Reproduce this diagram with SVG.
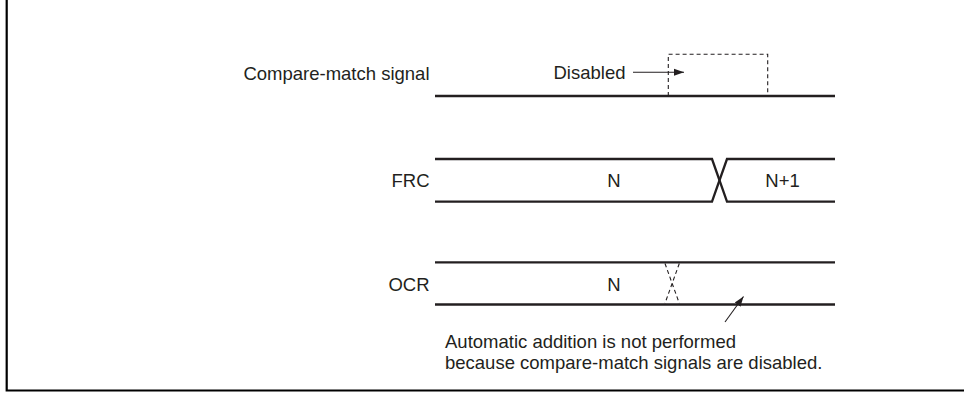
<svg xmlns="http://www.w3.org/2000/svg" width="964" height="393" viewBox="0 0 964 393">
<style>
text{font-family:"Liberation Sans",Arial,sans-serif;font-size:18.5px;fill:#231f20}
.lbl{text-anchor:end}
.mid{text-anchor:middle}
.sig{fill:none;stroke:#231f20;stroke-width:2.3}
.dash{fill:none;stroke:#231f20;stroke-width:1.1;stroke-dasharray:4 3}
.thin{fill:none;stroke:#231f20;stroke-width:1.1}
.frame{fill:none;stroke:#000;stroke-width:2.2}
</style>
<defs>
<marker id="ah" viewBox="0 0 10 10" refX="10" refY="5" markerWidth="10" markerHeight="10" markerUnits="userSpaceOnUse" orient="auto">
<path d="M0,1.5 L10,5 L0,8.5 Z" fill="#231f20"/>
</marker>
</defs>
<rect width="964" height="393" fill="#fff"/>
<path class="frame" d="M6.7,0 V390.5 H964"/>
<g id="compare-match">
<text class="lbl" x="429.5" y="80">Compare-match signal</text>
<line class="sig" x1="435" y1="96" x2="835" y2="96"/>
<path class="dash" d="M668.3,96 V54.3 H767.7 V96"/>
</g>
<g id="frc">
<text class="lbl" x="429.5" y="187">FRC</text>
<path class="sig" d="M435,159 H712 L727,201.7 H835"/>
<path class="sig" d="M435,201.7 H712 L727,159 H835"/>
<text class="mid" x="614" y="187">N</text>
<text class="mid" x="782.5" y="187">N+1</text>
</g>
<g id="ocr">
<text class="lbl" x="429.5" y="291">OCR</text>
<line class="sig" x1="435" y1="262.3" x2="835" y2="262.3"/>
<line class="sig" x1="435" y1="304.5" x2="835" y2="304.5"/>
<path class="dash" d="M665,263.5 L679.3,303.3 M679.3,263.5 L665,303.3"/>
<text class="mid" x="614" y="291">N</text>
</g>
<g id="disabled-label">
<text class="lbl" x="625.5" y="79">Disabled</text>
</g>
<g id="note">
<text x="445" y="347.5">Automatic addition is not performed</text>
<text x="445" y="368.5">because compare-match signals are disabled.</text>
</g>
<g id="connectors">
<line class="thin" x1="633" y1="72.3" x2="684" y2="72.3" marker-end="url(#ah)"/>
<line class="thin" x1="725" y1="322" x2="743.5" y2="296.5" marker-end="url(#ah)"/>
</g>
</svg>
